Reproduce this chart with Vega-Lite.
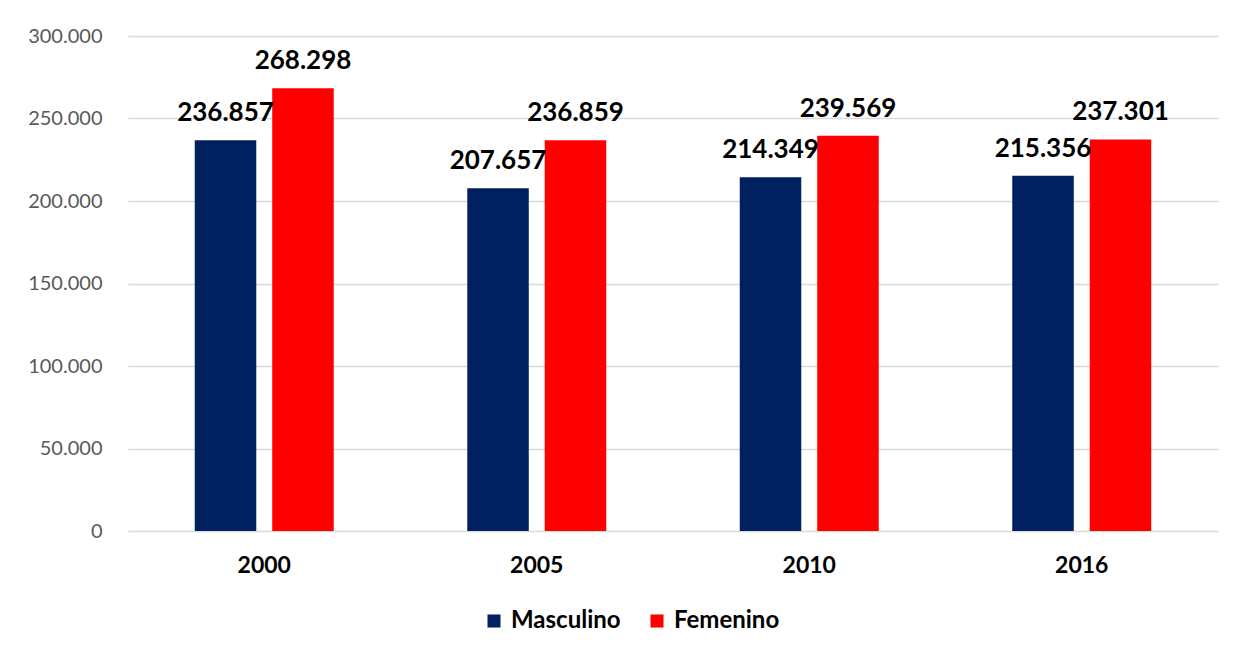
{
  "$schema": "https://vega.github.io/schema/vega-lite/v6.json",
  "width": 1090,
  "height": 495,
  "autosize": "none",
  "padding": {"left": 128, "top": 36, "right": 25, "bottom": 123},
  "background": "white",
  "config": {
    "font": "Lato",
    "view": {"stroke": null},
    "locale": {"number": {"decimal": ",", "thousands": ".", "grouping": [3], "currency": ["", ""]}}
  },
  "data": {
    "values": [
      {"year": "2000", "sexo": "Masculino", "valor": 236857},
      {"year": "2000", "sexo": "Femenino", "valor": 268298},
      {"year": "2005", "sexo": "Masculino", "valor": 207657},
      {"year": "2005", "sexo": "Femenino", "valor": 236859},
      {"year": "2010", "sexo": "Masculino", "valor": 214349},
      {"year": "2010", "sexo": "Femenino", "valor": 239569},
      {"year": "2016", "sexo": "Masculino", "valor": 215356},
      {"year": "2016", "sexo": "Femenino", "valor": 237301}
    ]
  },
  "encoding": {
    "x": {
      "field": "year", "type": "nominal",
      "scale": {"paddingInner": 0.49, "paddingOuter": 0.245},
      "axis": {"title": null, "labelAngle": 0, "labelFontSize": 23, "labelFontWeight": "bold", "labelColor": "black", "labelPadding": 23, "domain": false, "ticks": false, "labelBaseline": "top"}
    },
    "xOffset": {"field": "sexo", "type": "nominal", "sort": ["Masculino", "Femenino"], "scale": {"paddingInner": 0.206, "paddingOuter": 0}},
    "y": {
      "field": "valor", "type": "quantitative",
      "scale": {"domain": [0, 300000]},
      "axis": {"title": null, "values": [0, 50000, 100000, 150000, 200000, 250000, 300000], "format": ",d", "labelFontSize": 20, "labelColor": "#595959", "labelPadding": 26, "domain": false, "ticks": false, "gridColor": "#D9D9D9", "gridWidth": 1.3}
    }
  },
  "layer": [
    {
      "mark": {"type": "bar"},
      "encoding": {
        "color": {
          "field": "sexo", "type": "nominal",
          "scale": {"domain": ["Masculino", "Femenino"], "range": ["#002060", "#FF0000"]},
          "legend": {"title": null, "orient": "none", "direction": "horizontal", "legendX": 354, "legendY": 573, "symbolType": "square", "symbolSize": 170, "symbolStrokeWidth": 0, "symbolOpacity": 1, "labelFontSize": 24, "labelFontWeight": "bold", "labelColor": "black", "columnPadding": 24, "labelOffset": 5}
        }
      }
    },
    {
      "mark": {"type": "text", "fontSize": 26, "fontWeight": "bold", "color": "black", "baseline": "alphabetic", "dy": -19},
      "encoding": {
        "text": {"field": "valor", "type": "quantitative", "format": ",d"}
      }
    }
  ]
}
